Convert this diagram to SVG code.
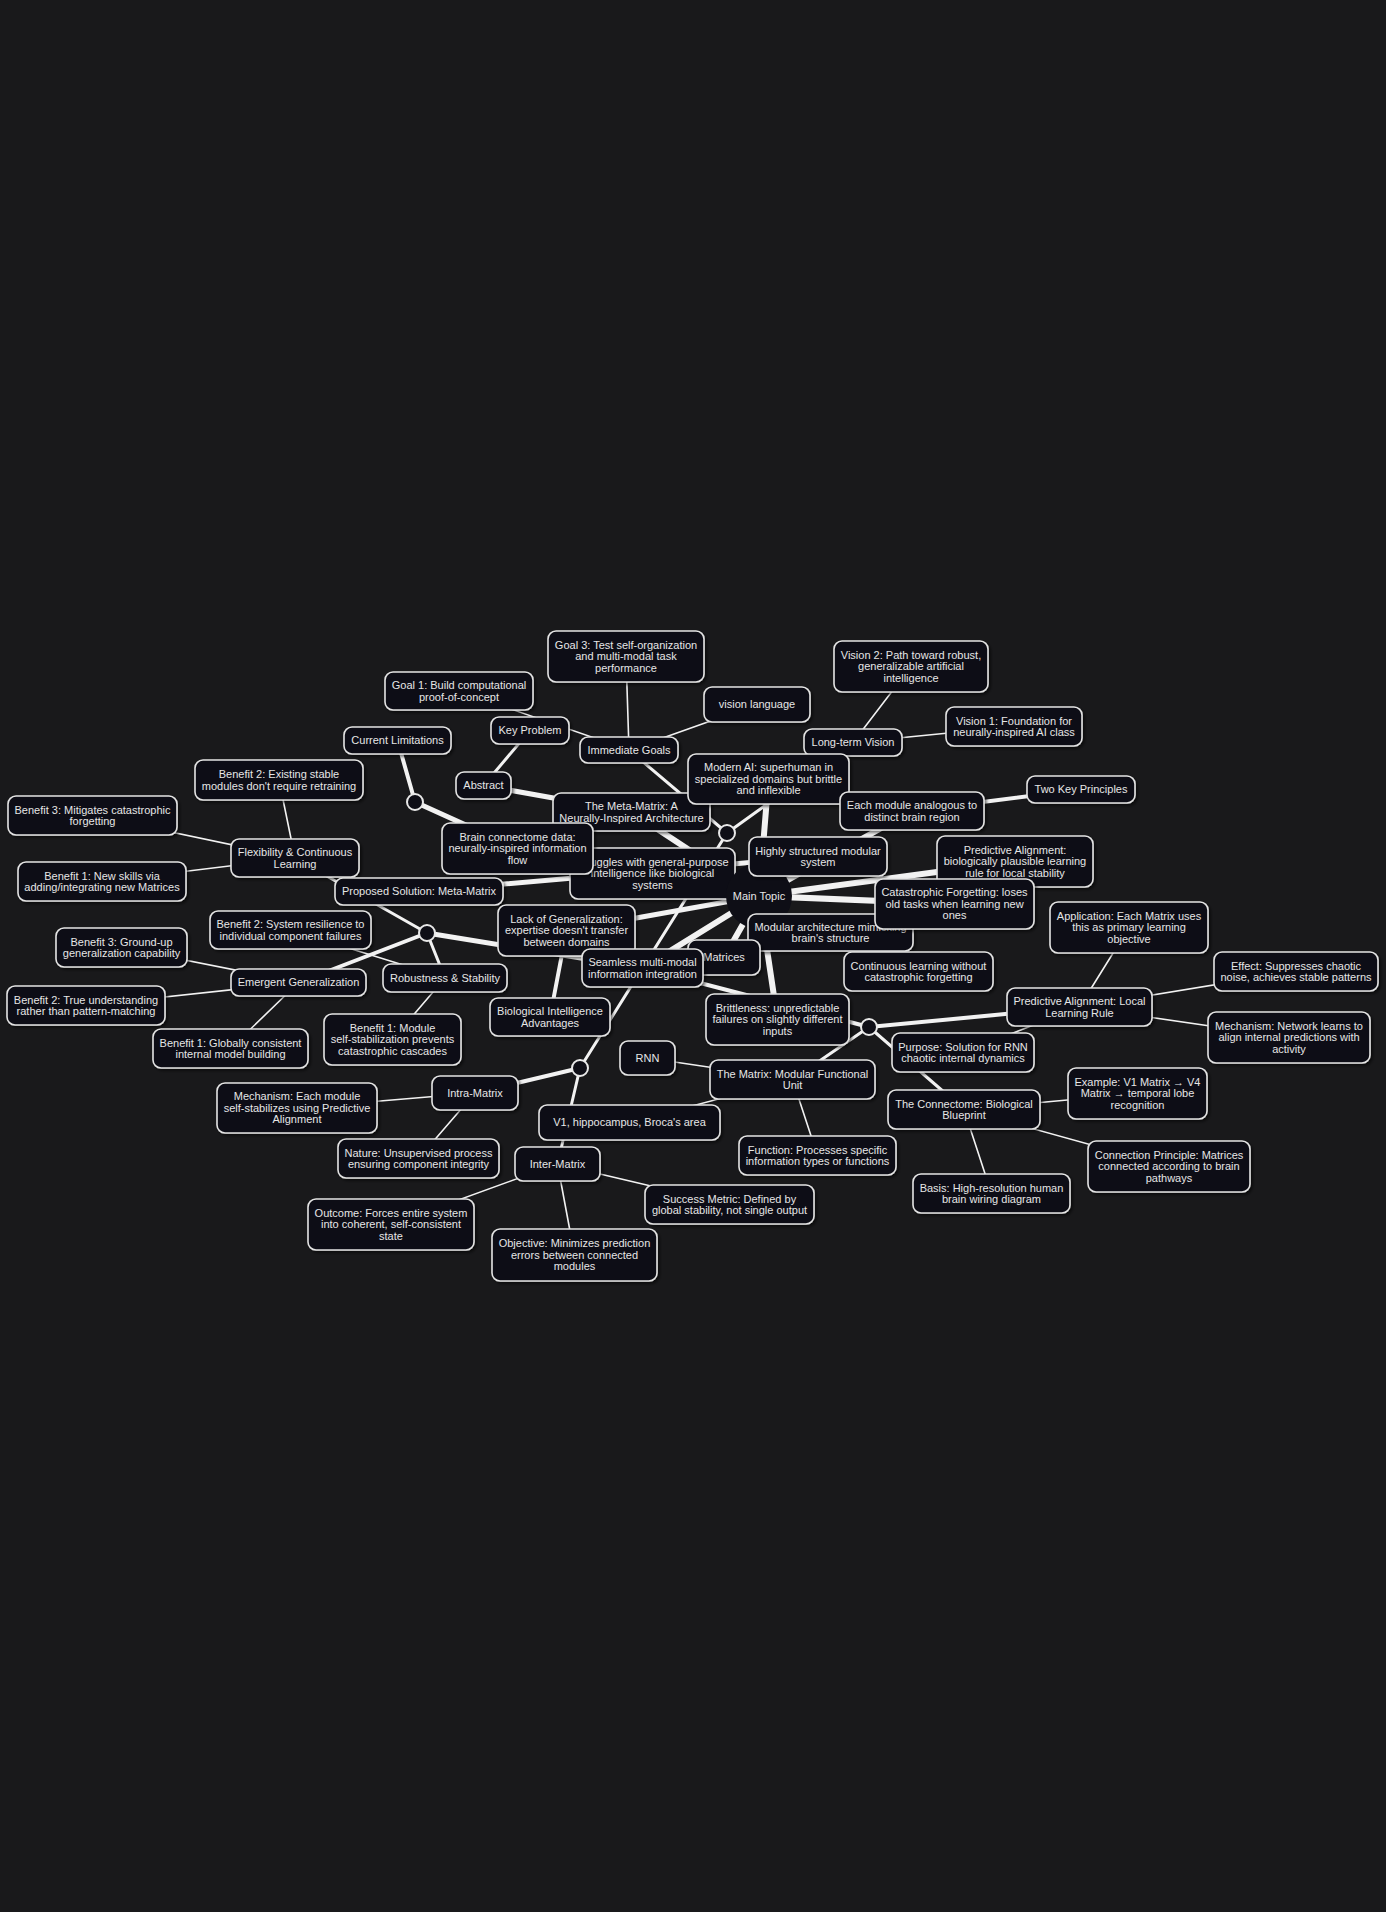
<svg xmlns="http://www.w3.org/2000/svg" width="1386" height="1912" viewBox="0 0 1386 1912">
<defs>
<filter id="sh" x="-10%" y="-10%" width="130%" height="140%"><feDropShadow dx="2" dy="2" stdDeviation="1.5" flood-color="#000" flood-opacity="0.55"/></filter>
<style>
.node rect{fill:#0e0e16;stroke:#e4e4e4;stroke-width:1.6;filter:url(#sh)}
.node text{font-family:"Liberation Sans",Arial,sans-serif;font-size:11px;fill:#e6e6e6;text-anchor:middle}
.junction circle{fill:#0e0e16;stroke:#e8e8e8;stroke-width:2}
.root circle{fill:#0e0e16}
.edges line{stroke:#f2f2f2;stroke-linecap:round}
.e6{stroke-width:6}.e5{stroke-width:5}.e4{stroke-width:4}.e3{stroke-width:3}.e1{stroke-width:1.6}
</style>
</defs>
<rect width="1386" height="1912" fill="#19191b"/>
<g id="connectors" class="edges">
<line class="e6" x1="759" y1="896" x2="631.5" y2="812"/>
<line class="e6" x1="759" y1="896" x2="768.5" y2="779"/>
<line class="e6" x1="759" y1="896" x2="912" y2="811"/>
<line class="e6" x1="759" y1="896" x2="1015" y2="861.5"/>
<line class="e6" x1="759" y1="896" x2="954.5" y2="904"/>
<line class="e6" x1="759" y1="896" x2="777.5" y2="1019.5"/>
<line class="e6" x1="759" y1="896" x2="724" y2="957.5"/>
<line class="e6" x1="759" y1="896" x2="642.5" y2="968"/>
<line class="e5" x1="759" y1="896" x2="566.5" y2="930.5"/>
<line class="e5" x1="483.5" y1="785.5" x2="631.5" y2="812"/>
<line class="e5" x1="415" y1="802" x2="517.5" y2="848.5"/>
<line class="e5" x1="427" y1="933" x2="642.5" y2="968"/>
<line class="e4" x1="642.5" y1="968" x2="869" y2="1027"/>
<line class="e5" x1="419" y1="891.5" x2="818" y2="856.5"/>
<line class="e4" x1="912" y1="811" x2="1081" y2="789.5"/>
<line class="e4" x1="427" y1="933" x2="298.5" y2="982.5"/>
<line class="e3" x1="727" y1="833" x2="580" y2="1068"/>
<line class="e4" x1="869" y1="1027" x2="1079.5" y2="1007"/>
<line class="e4" x1="566.5" y1="930.5" x2="550" y2="1017"/>
<line class="e4" x1="580" y1="1068" x2="475" y2="1093"/>
<line class="e4" x1="397.5" y1="740.5" x2="415" y2="802"/>
<line class="e3" x1="295" y1="858" x2="427" y2="933"/>
<line class="e3" x1="427" y1="933" x2="445" y2="978"/>
<line class="e3" x1="530" y1="730.5" x2="483.5" y2="785.5"/>
<line class="e3" x1="629" y1="750" x2="727" y2="833"/>
<line class="e3" x1="727" y1="833" x2="853" y2="742.5"/>
<line class="e3" x1="869" y1="1027" x2="792.5" y2="1079.5"/>
<line class="e3" x1="869" y1="1027" x2="964" y2="1109.5"/>
<line class="e3" x1="580" y1="1068" x2="557.5" y2="1164"/>
<line class="e1" x1="459" y1="691" x2="629" y2="750"/>
<line class="e1" x1="626" y1="656.5" x2="629" y2="750"/>
<line class="e1" x1="757" y1="704.5" x2="629" y2="750"/>
<line class="e1" x1="853" y1="742.5" x2="911" y2="666.5"/>
<line class="e1" x1="853" y1="742.5" x2="1014" y2="726.5"/>
<line class="e1" x1="279" y1="780" x2="295" y2="858"/>
<line class="e1" x1="92.5" y1="815.5" x2="295" y2="858"/>
<line class="e1" x1="102" y1="881.5" x2="295" y2="858"/>
<line class="e1" x1="290.5" y1="930" x2="445" y2="978"/>
<line class="e1" x1="445" y1="978" x2="392.5" y2="1039.5"/>
<line class="e1" x1="298.5" y1="982.5" x2="121.5" y2="947.5"/>
<line class="e1" x1="298.5" y1="982.5" x2="86" y2="1005.5"/>
<line class="e1" x1="298.5" y1="982.5" x2="230.5" y2="1048.5"/>
<line class="e1" x1="475" y1="1093" x2="297" y2="1108"/>
<line class="e1" x1="475" y1="1093" x2="418.5" y2="1158.5"/>
<line class="e1" x1="557.5" y1="1164" x2="391" y2="1224.5"/>
<line class="e1" x1="557.5" y1="1164" x2="574.5" y2="1255"/>
<line class="e1" x1="557.5" y1="1164" x2="729.5" y2="1204.5"/>
<line class="e1" x1="647.5" y1="1058" x2="792.5" y2="1079.5"/>
<line class="e1" x1="629.5" y1="1122.5" x2="792.5" y2="1079.5"/>
<line class="e1" x1="792.5" y1="1079.5" x2="817.5" y2="1155.5"/>
<line class="e1" x1="1079.5" y1="1007" x2="963" y2="1052.5"/>
<line class="e1" x1="1079.5" y1="1007" x2="1129" y2="927.5"/>
<line class="e1" x1="1079.5" y1="1007" x2="1296" y2="971.5"/>
<line class="e1" x1="1079.5" y1="1007" x2="1289" y2="1037.5"/>
<line class="e1" x1="964" y1="1109.5" x2="1137.5" y2="1093.5"/>
<line class="e1" x1="964" y1="1109.5" x2="1169" y2="1166.5"/>
<line class="e1" x1="964" y1="1109.5" x2="991.5" y2="1193.5"/>
</g>
<g id="n-goal1" class="node"><rect x="385" y="672" width="148" height="38" rx="8"/><text><tspan x="459" y="689.2">Goal 1: Build computational</tspan><tspan x="459" y="700.7">proof-of-concept</tspan></text></g>
<g id="n-goal3" class="node"><rect x="548" y="631" width="156" height="51" rx="8"/><text><tspan x="626" y="648.9">Goal 3: Test self-organization</tspan><tspan x="626" y="660.4">and multi-modal task</tspan><tspan x="626" y="671.9">performance</tspan></text></g>
<g id="n-keyproblem" class="node"><rect x="491" y="717" width="78" height="27" rx="8"/><text x="530" y="734.4">Key Problem</text></g>
<g id="n-immediategoals" class="node"><rect x="580" y="737" width="98" height="26" rx="8"/><text x="629" y="753.9">Immediate Goals</text></g>
<g id="n-visionlanguage" class="node"><rect x="704" y="687" width="106" height="35" rx="8"/><text x="757" y="708.4">vision language</text></g>
<g id="n-longtermvision" class="node"><rect x="804" y="729" width="98" height="27" rx="8"/><text x="853" y="746.4">Long-term Vision</text></g>
<g id="n-vision2" class="node"><rect x="834" y="641" width="154" height="51" rx="8"/><text><tspan x="911" y="658.9">Vision 2: Path toward robust,</tspan><tspan x="911" y="670.4">generalizable artificial</tspan><tspan x="911" y="681.9">intelligence</tspan></text></g>
<g id="n-vision1" class="node"><rect x="946" y="707" width="136" height="39" rx="8"/><text><tspan x="1014" y="724.65">Vision 1: Foundation for</tspan><tspan x="1014" y="736.15">neurally-inspired AI class</tspan></text></g>
<g id="n-twokey" class="node"><rect x="1027" y="776" width="108" height="27" rx="8"/><text x="1081" y="793.4">Two Key Principles</text></g>
<g id="n-metamatrix" class="node"><rect x="553" y="793" width="157" height="38" rx="8"/><text><tspan x="631.5" y="810.15">The Meta-Matrix: A</tspan><tspan x="631.5" y="821.65">Neurally-Inspired Architecture</tspan></text></g>
<g id="n-modernai" class="node"><rect x="688" y="754" width="161" height="50" rx="8"/><text><tspan x="768.5" y="771.4">Modern AI: superhuman in</tspan><tspan x="768.5" y="782.9">specialized domains but brittle</tspan><tspan x="768.5" y="794.4">and inflexible</tspan></text></g>
<g id="n-eachmodule" class="node"><rect x="840" y="792" width="144" height="38" rx="8"/><text><tspan x="912" y="809.15">Each module analogous to</tspan><tspan x="912" y="820.65">distinct brain region</tspan></text></g>
<g id="n-abstract" class="node"><rect x="456" y="772" width="55" height="27" rx="8"/><text x="483.5" y="789.4">Abstract</text></g>
<g id="n-currentlimitations" class="node"><rect x="344" y="727" width="107" height="27" rx="8"/><text x="397.5" y="744.4">Current Limitations</text></g>
<g id="n-benefit2-existing" class="node"><rect x="195" y="760" width="168" height="40" rx="8"/><text><tspan x="279" y="778.15">Benefit 2: Existing stable</tspan><tspan x="279" y="789.65">modules don't require retraining</tspan></text></g>
<g id="n-benefit3-mitigates" class="node"><rect x="8" y="796" width="169" height="39" rx="8"/><text><tspan x="92.5" y="813.65">Benefit 3: Mitigates catastrophic</tspan><tspan x="92.5" y="825.15">forgetting</tspan></text></g>
<g id="n-flexibility" class="node"><rect x="231" y="839" width="128" height="38" rx="8"/><text><tspan x="295" y="856.15">Flexibility &amp; Continuous</tspan><tspan x="295" y="867.65">Learning</tspan></text></g>
<g id="n-benefit1-newskills" class="node"><rect x="18" y="862" width="168" height="39" rx="8"/><text><tspan x="102" y="879.65">Benefit 1: New skills via</tspan><tspan x="102" y="891.15">adding/integrating new Matrices</tspan></text></g>
<g id="n-struggles" class="node"><rect x="570" y="848" width="165" height="51" rx="8"/><text><tspan x="652.5" y="865.9">Struggles with general-purpose</tspan><tspan x="652.5" y="877.4">intelligence like biological</tspan><tspan x="652.5" y="888.9">systems</tspan></text></g>
<g id="n-brainconnectome" class="node"><rect x="442" y="823" width="151" height="51" rx="8"/><text><tspan x="517.5" y="840.9">Brain connectome data:</tspan><tspan x="517.5" y="852.4">neurally-inspired information</tspan><tspan x="517.5" y="863.9">flow</tspan></text></g>
<g id="n-maintopic" class="node root"><circle cx="759" cy="896" r="33"/><text x="759" y="899.9">Main Topic</text></g>
<g id="n-highlystructured" class="node"><rect x="749" y="837" width="138" height="39" rx="8"/><text><tspan x="818" y="854.65">Highly structured modular</tspan><tspan x="818" y="866.15">system</tspan></text></g>
<g id="n-predictive-bio" class="node"><rect x="937" y="836" width="156" height="51" rx="8"/><text><tspan x="1015" y="853.9">Predictive Alignment:</tspan><tspan x="1015" y="865.4">biologically plausible learning</tspan><tspan x="1015" y="876.9">rule for local stability</tspan></text></g>
<g id="n-proposedsolution" class="node"><rect x="335" y="878" width="168" height="27" rx="8"/><text x="419" y="895.4">Proposed Solution: Meta-Matrix</text></g>
<g id="n-modular" class="node"><rect x="748" y="914" width="165" height="37" rx="8"/><text><tspan x="830.5" y="930.65">Modular architecture mimicking</tspan><tspan x="830.5" y="942.15">brain's structure</tspan></text></g>
<g id="n-catastrophic" class="node"><rect x="875" y="879" width="159" height="50" rx="8"/><text><tspan x="954.5" y="896.4">Catastrophic Forgetting: loses</tspan><tspan x="954.5" y="907.9">old tasks when learning new</tspan><tspan x="954.5" y="919.4">ones</tspan></text></g>
<g id="n-lack" class="node"><rect x="498" y="905" width="137" height="51" rx="8"/><text><tspan x="566.5" y="922.9">Lack of Generalization:</tspan><tspan x="566.5" y="934.4">expertise doesn't transfer</tspan><tspan x="566.5" y="945.9">between domains</tspan></text></g>
<g id="n-matrices" class="node"><rect x="688" y="940" width="72" height="35" rx="8"/><text x="724" y="961.4">Matrices</text></g>
<g id="n-seamless" class="node"><rect x="582" y="949" width="121" height="38" rx="8"/><text><tspan x="642.5" y="966.15">Seamless multi-modal</tspan><tspan x="642.5" y="977.65">information integration</tspan></text></g>
<g id="n-benefit2-system" class="node"><rect x="210" y="911" width="161" height="38" rx="8"/><text><tspan x="290.5" y="928.15">Benefit 2: System resilience to</tspan><tspan x="290.5" y="939.65">individual component failures</tspan></text></g>
<g id="n-benefit3-groundup" class="node"><rect x="56" y="928" width="131" height="39" rx="8"/><text><tspan x="121.5" y="945.65">Benefit 3: Ground-up</tspan><tspan x="121.5" y="957.15">generalization capability</tspan></text></g>
<g id="n-emergent" class="node"><rect x="231" y="969" width="135" height="27" rx="8"/><text x="298.5" y="986.4">Emergent Generalization</text></g>
<g id="n-robustness" class="node"><rect x="383" y="964" width="124" height="28" rx="8"/><text x="445" y="981.9">Robustness &amp; Stability</text></g>
<g id="n-continuous" class="node"><rect x="844" y="952" width="149" height="39" rx="8"/><text><tspan x="918.5" y="969.65">Continuous learning without</tspan><tspan x="918.5" y="981.15">catastrophic forgetting</tspan></text></g>
<g id="n-application" class="node"><rect x="1050" y="902" width="158" height="51" rx="8"/><text><tspan x="1129" y="919.9">Application: Each Matrix uses</tspan><tspan x="1129" y="931.4">this as primary learning</tspan><tspan x="1129" y="942.9">objective</tspan></text></g>
<g id="n-effect" class="node"><rect x="1214" y="952" width="164" height="39" rx="8"/><text><tspan x="1296" y="969.65">Effect: Suppresses chaotic</tspan><tspan x="1296" y="981.15">noise, achieves stable patterns</tspan></text></g>
<g id="n-predictive-local" class="node"><rect x="1007" y="988" width="145" height="38" rx="8"/><text><tspan x="1079.5" y="1005.15">Predictive Alignment: Local</tspan><tspan x="1079.5" y="1016.65">Learning Rule</tspan></text></g>
<g id="n-mechanism-network" class="node"><rect x="1208" y="1012" width="162" height="51" rx="8"/><text><tspan x="1289" y="1029.9">Mechanism: Network learns to</tspan><tspan x="1289" y="1041.4">align internal predictions with</tspan><tspan x="1289" y="1052.9">activity</tspan></text></g>
<g id="n-benefit2-true" class="node"><rect x="7" y="986" width="158" height="39" rx="8"/><text><tspan x="86" y="1003.65">Benefit 2: True understanding</tspan><tspan x="86" y="1015.15">rather than pattern-matching</tspan></text></g>
<g id="n-benefit1-globally" class="node"><rect x="153" y="1029" width="155" height="39" rx="8"/><text><tspan x="230.5" y="1046.65">Benefit 1: Globally consistent</tspan><tspan x="230.5" y="1058.15">internal model building</tspan></text></g>
<g id="n-benefit1-module" class="node"><rect x="324" y="1014" width="137" height="51" rx="8"/><text><tspan x="392.5" y="1031.9">Benefit 1: Module</tspan><tspan x="392.5" y="1043.4">self-stabilization prevents</tspan><tspan x="392.5" y="1054.9">catastrophic cascades</tspan></text></g>
<g id="n-biological" class="node"><rect x="490" y="998" width="120" height="38" rx="8"/><text><tspan x="550" y="1015.15">Biological Intelligence</tspan><tspan x="550" y="1026.65">Advantages</tspan></text></g>
<g id="n-brittleness" class="node"><rect x="706" y="994" width="143" height="51" rx="8"/><text><tspan x="777.5" y="1011.9">Brittleness: unpredictable</tspan><tspan x="777.5" y="1023.4">failures on slightly different</tspan><tspan x="777.5" y="1034.9">inputs</tspan></text></g>
<g id="n-rnn" class="node"><rect x="620" y="1041" width="55" height="34" rx="8"/><text x="647.5" y="1061.9">RNN</text></g>
<g id="n-matrix" class="node"><rect x="710" y="1060" width="165" height="39" rx="8"/><text><tspan x="792.5" y="1077.65">The Matrix: Modular Functional</tspan><tspan x="792.5" y="1089.15">Unit</tspan></text></g>
<g id="n-purpose" class="node"><rect x="892" y="1033" width="142" height="39" rx="8"/><text><tspan x="963" y="1050.65">Purpose: Solution for RNN</tspan><tspan x="963" y="1062.15">chaotic internal dynamics</tspan></text></g>
<g id="n-example" class="node"><rect x="1068" y="1068" width="139" height="51" rx="8"/><text><tspan x="1137.5" y="1085.9">Example: V1 Matrix → V4</tspan><tspan x="1137.5" y="1097.4">Matrix → temporal lobe</tspan><tspan x="1137.5" y="1108.9">recognition</tspan></text></g>
<g id="n-connectome" class="node"><rect x="888" y="1090" width="152" height="39" rx="8"/><text><tspan x="964" y="1107.65">The Connectome: Biological</tspan><tspan x="964" y="1119.15">Blueprint</tspan></text></g>
<g id="n-connection-principle" class="node"><rect x="1088" y="1141" width="162" height="51" rx="8"/><text><tspan x="1169" y="1158.9">Connection Principle: Matrices</tspan><tspan x="1169" y="1170.4">connected according to brain</tspan><tspan x="1169" y="1181.9">pathways</tspan></text></g>
<g id="n-basis" class="node"><rect x="913" y="1174" width="157" height="39" rx="8"/><text><tspan x="991.5" y="1191.65">Basis: High-resolution human</tspan><tspan x="991.5" y="1203.15">brain wiring diagram</tspan></text></g>
<g id="n-function" class="node"><rect x="739" y="1136" width="157" height="39" rx="8"/><text><tspan x="817.5" y="1153.65">Function: Processes specific</tspan><tspan x="817.5" y="1165.15">information types or functions</tspan></text></g>
<g id="n-success" class="node"><rect x="645" y="1185" width="169" height="39" rx="8"/><text><tspan x="729.5" y="1202.65">Success Metric: Defined by</tspan><tspan x="729.5" y="1214.15">global stability, not single output</tspan></text></g>
<g id="n-v1" class="node"><rect x="539" y="1105" width="181" height="35" rx="8"/><text x="629.5" y="1126.4">V1, hippocampus, Broca's area</text></g>
<g id="n-intra" class="node"><rect x="432" y="1076" width="86" height="34" rx="8"/><text x="475" y="1096.9">Intra-Matrix</text></g>
<g id="n-mechanism-each" class="node"><rect x="217" y="1083" width="160" height="50" rx="8"/><text><tspan x="297" y="1100.4">Mechanism: Each module</tspan><tspan x="297" y="1111.9">self-stabilizes using Predictive</tspan><tspan x="297" y="1123.4">Alignment</tspan></text></g>
<g id="n-nature" class="node"><rect x="338" y="1139" width="161" height="39" rx="8"/><text><tspan x="418.5" y="1156.65">Nature: Unsupervised process</tspan><tspan x="418.5" y="1168.15">ensuring component integrity</tspan></text></g>
<g id="n-inter" class="node"><rect x="515" y="1147" width="85" height="34" rx="8"/><text x="557.5" y="1167.9">Inter-Matrix</text></g>
<g id="n-outcome" class="node"><rect x="308" y="1199" width="166" height="51" rx="8"/><text><tspan x="391" y="1216.9">Outcome: Forces entire system</tspan><tspan x="391" y="1228.4">into coherent, self-consistent</tspan><tspan x="391" y="1239.9">state</tspan></text></g>
<g id="n-objective" class="node"><rect x="492" y="1229" width="165" height="52" rx="8"/><text><tspan x="574.5" y="1247.4">Objective: Minimizes prediction</tspan><tspan x="574.5" y="1258.9">errors between connected</tspan><tspan x="574.5" y="1270.4">modules</tspan></text></g>
<g id="n-j1" class="junction"><circle cx="415" cy="802" r="8"/></g>
<g id="n-j2" class="junction"><circle cx="727" cy="833" r="8"/></g>
<g id="n-j3" class="junction"><circle cx="427" cy="933" r="8"/></g>
<g id="n-j4" class="junction"><circle cx="869" cy="1027" r="8"/></g>
<g id="n-j5" class="junction"><circle cx="580" cy="1068" r="8"/></g>
</svg>
